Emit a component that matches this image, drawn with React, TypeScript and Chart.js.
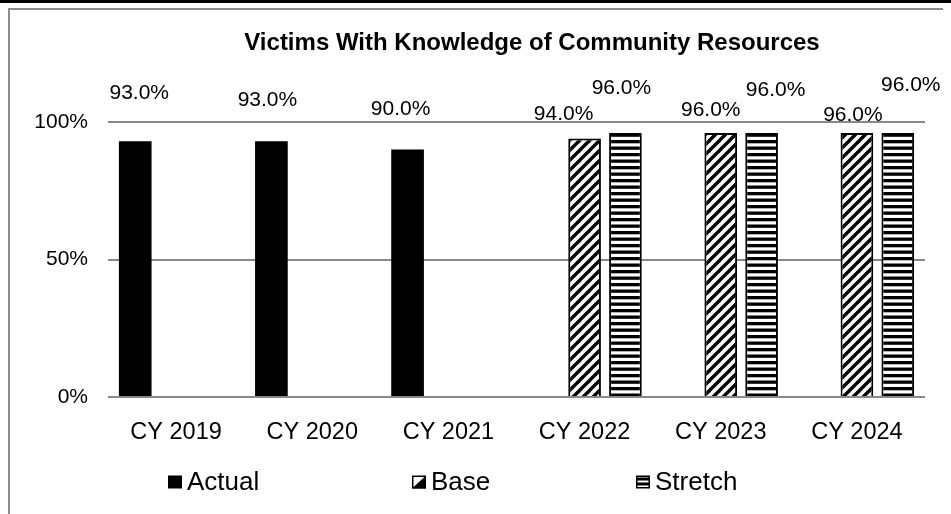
import React, { useEffect, useRef } from "react";
import { Chart, registerables } from "chart.js";

Chart.register(...registerables);

const FONT = "'Liberation Sans', Arial, sans-serif";

const titleText = "Victims With Knowledge of Community Resources";
const categories = ["CY 2019", "CY 2020", "CY 2021", "CY 2022", "CY 2023", "CY 2024"];
const seriesNames = ["Actual", "Base", "Stretch"];
const actualValues: (number | null)[] = [0.93, 0.93, 0.9, null, null, null];
const baseValues: (number | null)[] = [null, null, null, 0.94, 0.96, 0.96];
const stretchValues: (number | null)[] = [null, null, null, 0.96, 0.96, 0.96];
const yTickValues = [0, 0.5, 1];

// data-label nudges (dx, dy) relative to bar centre / bar top, in px
const labelNudges: ([number, number] | null)[][] = [
  [[4, -48], [-4, -41], [-7, -40], null, null, null],
  [null, null, null, [-21, -24], [-10, -23], [-4, -18]],
  [null, null, null, [-4, -45], [14, -43], [13, -48]],
];
// legend item left edges (canvas px)
const legendStarts = [158, 402, 626];

function makeDiagonal(): CanvasPattern | string {
  const s = 10;
  const c = document.createElement("canvas");
  c.width = s;
  c.height = s;
  const g = c.getContext("2d");
  if (!g) return "#000";
  g.fillStyle = "#fff";
  g.fillRect(0, 0, s, s);
  g.strokeStyle = "#000";
  g.lineWidth = 3.4;
  for (const o of [-s, 0, s]) {
    g.beginPath();
    g.moveTo(o - 2, s + 2);
    g.lineTo(o + s + 2, -2);
    g.stroke();
  }
  return g.createPattern(c, "repeat") || "#000";
}

function makeHorizontal(): CanvasPattern | string {
  const c = document.createElement("canvas");
  c.width = 8;
  c.height = 13;
  const g = c.getContext("2d");
  if (!g) return "#000";
  g.fillStyle = "#fff";
  g.fillRect(0, 0, 8, 13);
  g.fillStyle = "#000";
  g.fillRect(0, 0, 8, 3.3);
  g.fillRect(0, 6.5, 8, 3.3);
  return g.createPattern(c, "repeat") || "#000";
}

export default function App() {
  const ref = useRef<HTMLCanvasElement | null>(null);

  useEffect(() => {
    if (!ref.current) return;
    const diag = makeDiagonal();
    const horiz = makeHorizontal();

    const overlay = {
      id: "overlay",
      afterDraw(chart: any) {
        const ctx = chart.ctx as CanvasRenderingContext2D;
        ctx.save();
        // title
        ctx.fillStyle = "#000";
        ctx.font = `bold 24px ${FONT}`;
        ctx.textAlign = "center";
        ctx.textBaseline = "middle";
        ctx.fillText(titleText, 522, 33);
        // data labels
        ctx.font = `21px ${FONT}`;
        chart.data.datasets.forEach((ds: any, i: number) => {
          const meta = chart.getDatasetMeta(i);
          meta.data.forEach((bar: any, j: number) => {
            const v = ds.data[j];
            if (v == null) return;
            const n = labelNudges[i][j] || [0, -20];
            ctx.fillText((v * 100).toFixed(1) + "%", bar.x + n[0], bar.y + n[1]);
          });
        });
        // legend
        ctx.font = `26px ${FONT}`;
        ctx.textAlign = "left";
        const cy = 472;
        seriesNames.forEach((name, i) => {
          const x = legendStarts[i];
          const bw = 14;
          const bh = 13;
          const y0 = cy - bh / 2;
          if (i === 0) {
            ctx.fillStyle = "#000";
            ctx.fillRect(x, y0, bw, bh);
          } else if (i === 1) {
            ctx.fillStyle = "#fff";
            ctx.fillRect(x, y0, bw, bh);
            ctx.fillStyle = "#000";
            ctx.beginPath();
            ctx.moveTo(x, y0 + bh);
            ctx.lineTo(x + bw, y0);
            ctx.lineTo(x + bw, y0 + bh);
            ctx.closePath();
            ctx.fill();
            ctx.strokeStyle = "#000";
            ctx.lineWidth = 1.5;
            ctx.strokeRect(x + 0.75, y0 + 0.75, bw - 1.5, bh - 1.5);
          } else {
            ctx.fillStyle = "#fff";
            ctx.fillRect(x, y0, bw, bh);
            ctx.fillStyle = "#000";
            ctx.fillRect(x, y0 + 2, bw, 3);
            ctx.fillRect(x, y0 + 7, bw, 3);
            ctx.strokeStyle = "#000";
            ctx.lineWidth = 1.5;
            ctx.strokeRect(x + 0.75, y0 + 0.75, bw - 1.5, bh - 1.5);
          }
          ctx.fillStyle = "#000";
          ctx.textBaseline = "middle";
          ctx.fillText(name, x + bw + 5, cy + 1);
        });
        ctx.restore();
      },
    };

    const chart = new Chart(ref.current, {
      type: "bar",
      data: {
        labels: categories,
        datasets: [
          { label: seriesNames[0], data: actualValues, backgroundColor: "#000", borderColor: "#000", borderWidth: 0 },
          { label: seriesNames[1], data: baseValues, backgroundColor: diag as any, borderColor: "#000", borderWidth: 2 },
          { label: seriesNames[2], data: stretchValues, backgroundColor: horiz as any, borderColor: "#000", borderWidth: 2 },
        ],
      },
      options: {
        responsive: false,
        animation: false,
        devicePixelRatio: 1,
        layout: { padding: { left: 0, right: 26, top: 112, bottom: 57 } },
        datasets: { bar: { barPercentage: 0.8, categoryPercentage: 0.9 } },
        plugins: {
          legend: { display: false },
          tooltip: { enabled: false },
          title: { display: false, text: titleText },
        },
        scales: {
          x: {
            grid: { display: false },
            border: { display: false },
            ticks: { color: "#000", font: { family: FONT, size: 23.5 }, padding: 13, maxRotation: 0 },
            afterFit: (s: any) => {
              s.height = 60;
            },
          },
          y: {
            min: 0,
            max: 1,
            afterBuildTicks: (s: any) => {
              s.ticks = yTickValues.map((v) => ({ value: v }));
            },
            grid: { color: "#898989", lineWidth: 2, drawTicks: false },
            border: { display: false },
            ticks: {
              color: "#000",
              font: { family: FONT, size: 21 },
              padding: 20,
              callback: (v: any) => Math.round(Number(v) * 100) + "%",
            },
            afterFit: (s: any) => {
              s.width = 98;
            },
          },
        },
      },
      plugins: [overlay],
    });
    return () => chart.destroy();
  }, []);

  return (
    <>
      <div style={{ position: "fixed", top: 0, left: 0, width: "100%", height: 3, background: "#000" }} />
      <div style={{ borderLeft: "2px solid #8c8c8c", borderTop: "2px solid #8c8c8c", height: 520 }}>
        <canvas ref={ref} width={941} height={504} style={{ display: "block", width: 941, height: 504 }} />
      </div>
    </>
  );
}
